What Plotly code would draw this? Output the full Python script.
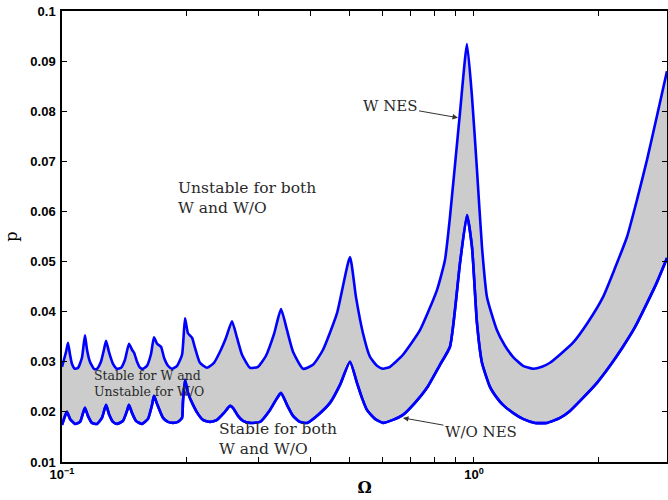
import math
import plotly.graph_objects as go

# Stability boundary with the NES attached (upper curve): forcing frequency and load
omega_w = [0.1000, 0.1023, 0.1034, 0.1046, 0.1057, 0.1075, 0.1094, 0.1118, 0.1137, 0.1150,
           0.1169, 0.1196, 0.1216, 0.1243, 0.1264, 0.1279, 0.1300, 0.1330, 0.1360, 0.1391,
           0.1422, 0.1454, 0.1479, 0.1496, 0.1521, 0.1547, 0.1573, 0.1608, 0.1645, 0.1672,
           0.1701, 0.1739, 0.1769, 0.1808, 0.1849, 0.1902, 0.1956, 0.1989, 0.2022, 0.2068,
           0.2103, 0.2162, 0.2249, 0.2338, 0.2418, 0.2501, 0.2586, 0.2659, 0.2735, 0.2860,
           0.2990, 0.3127, 0.3270, 0.3401, 0.3517, 0.3637, 0.3846, 0.4067, 0.4301, 0.4651,
           0.5000, 0.5171, 0.5377, 0.5591, 0.5814, 0.6013, 0.6253, 0.6724, 0.7394, 0.8131,
           0.8503, 0.8744, 0.9248, 0.9617, 0.9889, 1.0169, 1.0457, 1.0754, 1.1371, 1.1891,
           1.2435, 1.3150, 1.3906, 1.4623, 1.5292, 1.6263, 1.7392, 1.8912, 2.0564, 2.1991,
           2.3515, 2.4867, 2.6300, 2.7812, 2.9411]
p_w = [0.0290, 0.0320, 0.0338, 0.0314, 0.0296, 0.0286, 0.0288, 0.0308, 0.0353, 0.0324,
       0.0300, 0.0286, 0.0286, 0.0300, 0.0324, 0.0342, 0.0320, 0.0296, 0.0286, 0.0288,
       0.0304, 0.0336, 0.0324, 0.0318, 0.0300, 0.0288, 0.0286, 0.0292, 0.0316, 0.0349,
       0.0336, 0.0330, 0.0308, 0.0292, 0.0286, 0.0292, 0.0314, 0.0387, 0.0357, 0.0348,
       0.0328, 0.0298, 0.0288, 0.0298, 0.0320, 0.0348, 0.0381, 0.0348, 0.0314, 0.0288,
       0.0290, 0.0312, 0.0355, 0.0405, 0.0363, 0.0320, 0.0286, 0.0294, 0.0324, 0.0397,
       0.0509, 0.0429, 0.0357, 0.0310, 0.0292, 0.0286, 0.0290, 0.0314, 0.0363, 0.0443,
       0.0503, 0.0589, 0.0797, 0.0934, 0.0829, 0.0683, 0.0529, 0.0429, 0.0363, 0.0332,
       0.0310, 0.0292, 0.0286, 0.0290, 0.0298, 0.0316, 0.0338, 0.0379, 0.0429, 0.0487,
       0.0549, 0.0623, 0.0703, 0.0791, 0.0880]

# Stability boundary without the NES (lower curve)
omega_wo = [0.1000, 0.1017, 0.1028, 0.1046, 0.1075, 0.1106, 0.1125, 0.1137, 0.1156, 0.1182,
            0.1216, 0.1250, 0.1279, 0.1300, 0.1330, 0.1360, 0.1406, 0.1438, 0.1454, 0.1479,
            0.1512, 0.1564, 0.1617, 0.1654, 0.1672, 0.1701, 0.1759, 0.1808, 0.1860, 0.1912,
            0.1956, 0.1966, 0.1989, 0.2022, 0.2080, 0.2138, 0.2199, 0.2287, 0.2378, 0.2473,
            0.2557, 0.2600, 0.2674, 0.2750, 0.2860, 0.3024, 0.3198, 0.3307, 0.3401, 0.3517,
            0.3637, 0.3782, 0.3933, 0.4182, 0.4472, 0.4729, 0.5000, 0.5200, 0.5347, 0.5498,
            0.5750, 0.6013, 0.6358, 0.6724, 0.7190, 0.7689, 0.8269, 0.8744, 0.9248, 0.9617,
            0.9889, 1.0169, 1.0457, 1.0935, 1.1371, 1.1759, 1.2435, 1.3150, 1.4062, 1.5038,
            1.6173, 1.7102, 1.8391, 1.9886, 2.1385, 2.2995, 2.4590, 2.6300, 2.7812, 2.9411]
p_wo = [0.0174, 0.0192, 0.0200, 0.0186, 0.0176, 0.0180, 0.0198, 0.0208, 0.0192, 0.0178,
        0.0176, 0.0188, 0.0214, 0.0196, 0.0180, 0.0176, 0.0182, 0.0202, 0.0214, 0.0198,
        0.0182, 0.0176, 0.0186, 0.0214, 0.0232, 0.0216, 0.0188, 0.0180, 0.0178, 0.0180,
        0.0188, 0.0220, 0.0264, 0.0238, 0.0214, 0.0196, 0.0184, 0.0180, 0.0184, 0.0198,
        0.0212, 0.0208, 0.0192, 0.0182, 0.0178, 0.0180, 0.0204, 0.0224, 0.0238, 0.0214,
        0.0192, 0.0180, 0.0178, 0.0194, 0.0218, 0.0254, 0.0300, 0.0258, 0.0228, 0.0204,
        0.0186, 0.0178, 0.0184, 0.0194, 0.0218, 0.0248, 0.0294, 0.0330, 0.0497, 0.0593,
        0.0529, 0.0377, 0.0298, 0.0250, 0.0228, 0.0214, 0.0198, 0.0186, 0.0178, 0.0178,
        0.0188, 0.0202, 0.0228, 0.0258, 0.0292, 0.0330, 0.0369, 0.0417, 0.0459, 0.0507]

x_tickvals = [0.1, 0.2, 0.3, 0.4, 0.5, 0.6, 0.7, 0.8, 0.9, 1.0, 2.0]
x_ticktext = ["10<sup>−1</sup>", "", "", "", "", "", "", "", "", "10<sup>0</sup>", ""]
y_tickvals = [0.01, 0.02, 0.03, 0.04, 0.05, 0.06, 0.07, 0.08, 0.09, 0.1]
y_ticktext = ["0.01", "0.02", "0.03", "0.04", "0.05", "0.06", "0.07", "0.08", "0.09", "0.1"]

# Arrow targets for the curve labels
w_nes_point = (0.9146, 0.0787)
wo_nes_point = (0.6724, 0.0188)

BLUE = "#0000ff"
FILL = "#cccccc"
TEXT = "#2a2a2a"
SERIF = "DejaVu Serif"
curve_line = dict(color=BLUE, width=2.6, shape="spline", smoothing=0.5)

fig = go.Figure()

# Lower boundary first, then the upper one filled down to it
fig.add_trace(go.Scatter(x=omega_wo, y=p_wo, mode="lines",
                         line=curve_line, showlegend=False))
fig.add_trace(go.Scatter(x=omega_w, y=p_w, mode="lines", fill="tonexty", fillcolor=FILL,
                         line=curve_line, showlegend=False))
# Redraw the lower boundary so it sits above the shading
fig.add_trace(go.Scatter(x=omega_wo, y=p_wo, mode="lines",
                         line=curve_line, showlegend=False, hoverinfo="skip"))

axis_common = dict(
    showline=True, linecolor="black", linewidth=1.5, mirror="ticks",
    ticks="inside", ticklen=5, tickwidth=1.2, tickcolor="black",
    showgrid=False, zeroline=False,
    tickfont=dict(family="Liberation Sans", size=13, color="black", weight="bold"),
)

fig.update_xaxes(
    type="log", range=[-1, math.log10(2.9411)],
    tickmode="array", tickvals=x_tickvals, ticktext=x_ticktext,
    title=dict(text="Ω", font=dict(family=SERIF, size=16, color="black", weight="bold"), standoff=0),
    **axis_common,
)
fig.update_yaxes(
    range=[0.01, 0.1],
    tickmode="array", tickvals=y_tickvals, ticktext=y_ticktext,
    ticklabelstandoff=2,
    title=dict(text="p", font=dict(family=SERIF, size=16, color="black"), standoff=9),
    **axis_common,
)

def region_label(text, xp, yp, size):
    fig.add_annotation(
        text=text, xref="paper", yref="paper", x=xp, y=yp,
        xanchor="left", yanchor="middle", align="left", showarrow=False,
        font=dict(family=SERIF, size=size, color=TEXT),
    )

region_label("Unstable for both<br>W and W/O", 0.188, 0.585, 15.5)
region_label("Stable for W and<br>Unstable for W/O", 0.050, 0.174, 12.5)
region_label("Stable for both<br>W and W/O", 0.256, 0.051, 15.5)

fig.add_annotation(
    text="W NES", x=math.log10(w_nes_point[0]), y=w_nes_point[1],
    xref="x", yref="y", ax=-68, ay=-12, showarrow=True,
    arrowhead=2, arrowsize=1.1, arrowwidth=1, arrowcolor="#333333",
    font=dict(family=SERIF, size=15, color=TEXT),
)
fig.add_annotation(
    text="W/O NES", x=math.log10(wo_nes_point[0]), y=wo_nes_point[1],
    xref="x", yref="y", ax=78, ay=14, showarrow=True,
    arrowhead=2, arrowsize=1.1, arrowwidth=1, arrowcolor="#333333",
    font=dict(family=SERIF, size=15, color=TEXT),
)

fig.update_layout(
    width=668, height=500,
    margin=dict(l=62, r=1, t=11, b=38, autoexpand=False),
    paper_bgcolor="white", plot_bgcolor="white",
    showlegend=False,
)

fig.write_html("out.html")
